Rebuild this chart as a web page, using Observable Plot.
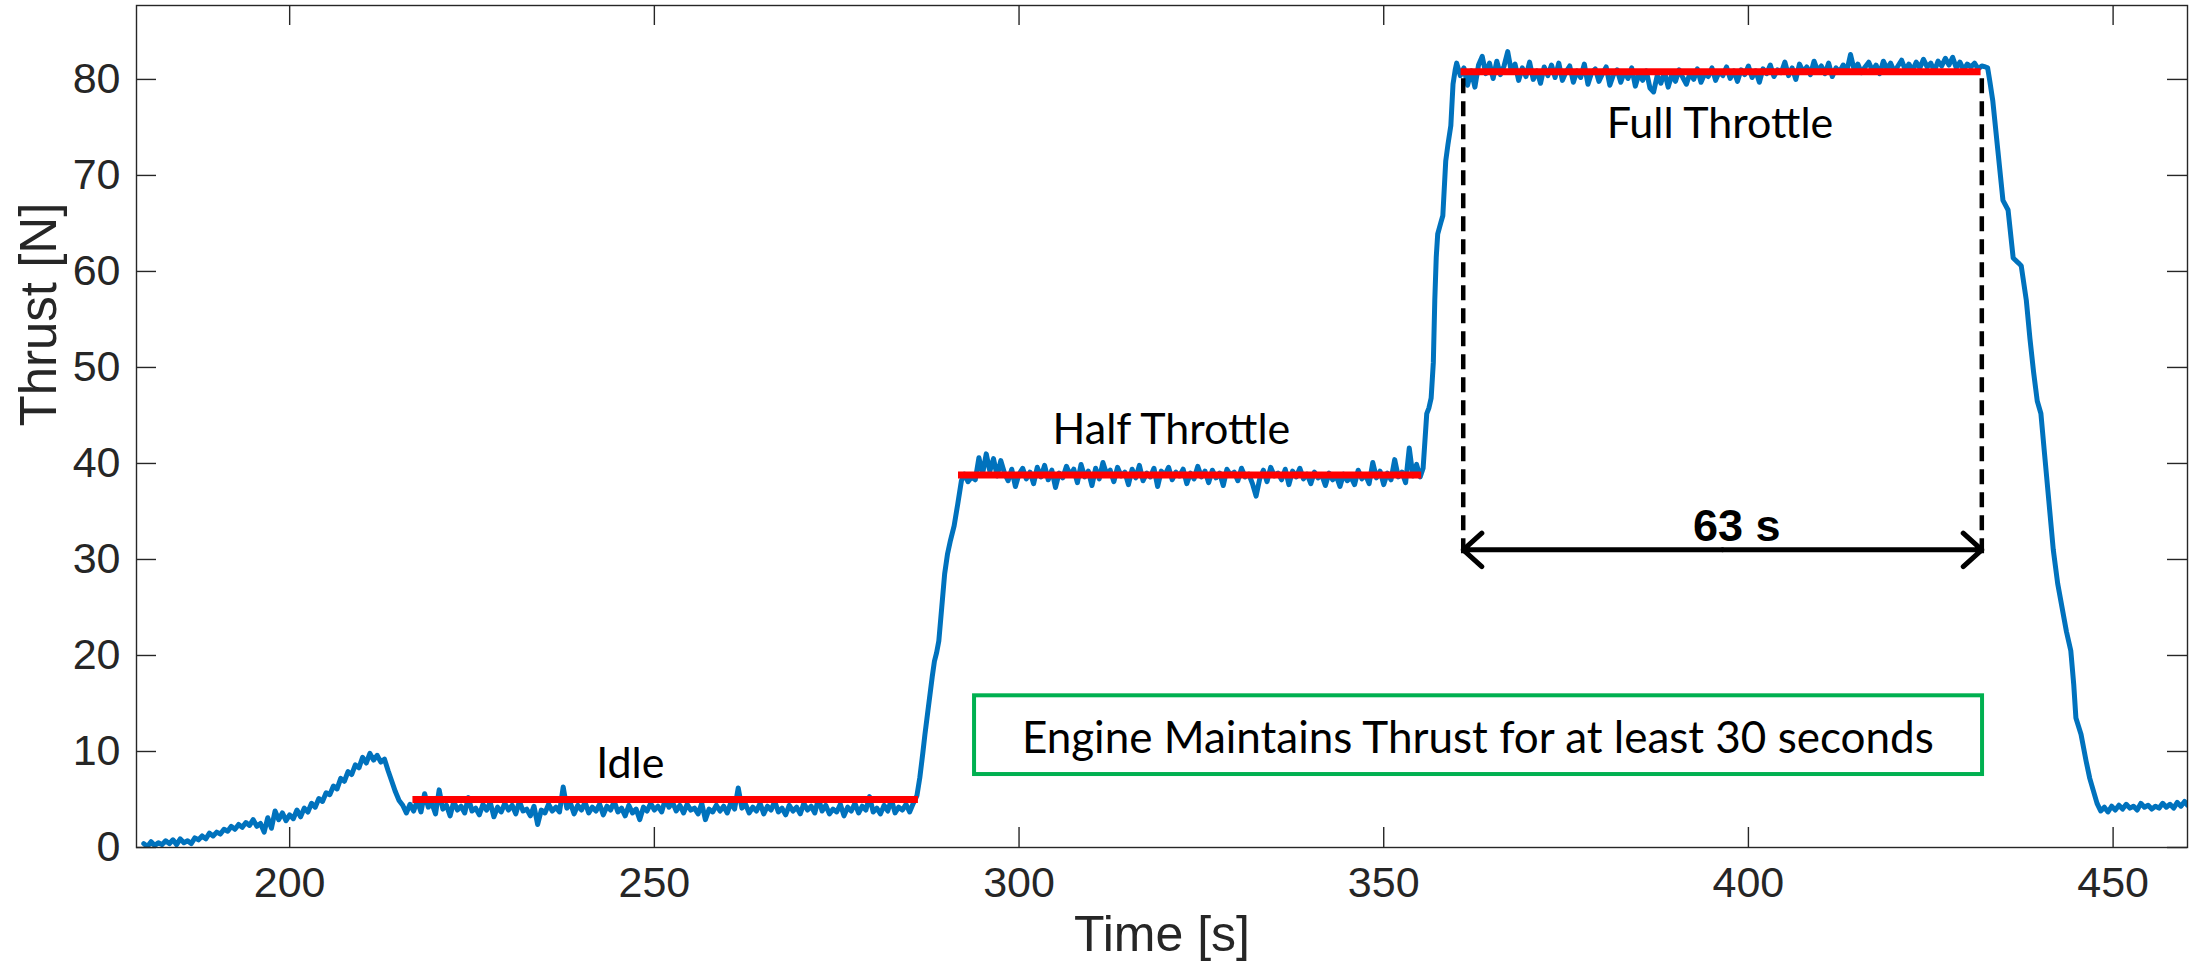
<!DOCTYPE html>
<html>
<head>
<meta charset="utf-8">
<script src="https://cdn.jsdelivr.net/npm/d3@7"></script>
<script src="https://cdn.jsdelivr.net/npm/@observablehq/plot@0.6"></script>
<style>
  html, body { margin: 0; padding: 0; background: #ffffff; }
  #chart svg { display: block; }
</style>
</head>
<body>
<div id="chart"></div>
<script>
// ---------------- data ----------------
// start-up hump before idle
const humpTime = [180,180.5,181,181.5,182,182.5,183,183.5,184,184.5,
  185,185.5,186,186.5,187,187.5,188,188.5,189,189.5,
  190,190.5,191,191.5,192,192.5,193,193.5,194,194.5,
  195,195.5,196,196.5,197,197.5,198,198.5,199,199.5,
  200,200.5,201,201.5,202,202.5,203,203.5,204,204.5,
  205,205.5,206,206.5,207,207.5,208,208.5,209,209.5,
  210,210.5,211,211.5,212,212.5,213,213.5,214,214.5,
  215,215.5,216,216.5,217];
const humpThrust = [0.4,0.1,0.6,0.2,0.5,0.3,0.7,0.4,0.8,0.3,
  0.9,0.5,0.7,0.4,1.0,0.8,1.2,0.9,1.5,1.2,
  1.6,1.4,1.9,1.7,2.2,1.9,2.4,2.1,2.6,2.3,
  2.9,2.2,2.5,1.6,3.1,2.0,3.8,2.9,3.6,2.8,
  3.4,3.0,3.9,3.2,4.1,3.7,4.6,4.2,5.1,4.8,
  5.7,5.5,6.4,6.1,7.2,6.9,7.9,7.6,8.6,8.3,
  9.4,8.8,9.8,9.1,9.6,8.9,9.2,8.0,6.9,5.8,
  4.9,4.4,3.6,4.5,3.8];

// idle plateau
const idleTime = [217.5,218,218.5,219,219.5,220,220.5,221,221.5,222,
  222.5,223,223.5,224,224.5,225,225.5,226,226.5,227,
  227.5,228,228.5,229,229.5,230,230.5,231,231.5,232,
  232.5,233,233.5,234,234.5,235,235.5,236,236.5,237,
  237.5,238,238.5,239,239.5,240,240.5,241,241.5,242,
  242.5,243,243.5,244,244.5,245,245.5,246,246.5,247,
  247.5,248,248.5,249,249.5,250,250.5,251,251.5,252,
  252.5,253,253.5,254,254.5,255,255.5,256,256.5,257,
  257.5,258,258.5,259,259.5,260,260.5,261,261.5,262,
  262.5,263,263.5,264,264.5,265,265.5,266,266.5,267,
  267.5,268,268.5,269,269.5,270,270.5,271,271.5,272,
  272.5,273,273.5,274,274.5,275,275.5,276,276.5,277,
  277.5,278,278.5,279,279.5,280,280.5,281,281.5,282,
  282.5,283,283.5,284,284.5,285,285.5];
const idleThrust = [4.9,3.7,5.6,4.2,4.6,3.5,6.0,4.0,4.4,3.3,
  4.8,3.9,4.3,3.6,5.2,3.8,4.1,3.4,4.5,3.9,
  4.7,3.2,4.2,3.7,4.6,3.9,4.4,3.5,4.8,3.8,
  4.0,3.3,4.3,2.4,3.9,3.6,4.5,3.8,4.2,3.7,
  6.3,4.1,4.6,3.5,4.4,3.9,4.7,3.6,4.2,3.8,
  4.5,3.4,4.3,3.9,4.8,3.7,4.1,3.3,4.4,3.6,
  4.0,2.9,4.2,3.8,4.6,3.9,4.3,3.7,5.0,4.2,
  4.7,3.8,4.4,3.6,4.5,3.9,4.1,3.5,4.6,2.9,
  4.0,3.7,4.4,3.8,4.3,3.6,4.7,4.0,6.2,4.1,
  4.5,3.6,4.2,3.8,4.6,3.5,4.3,3.9,4.8,3.7,
  4.1,3.4,4.4,3.8,4.2,3.5,4.6,3.9,4.3,3.6,
  5.1,3.8,4.4,3.5,4.0,3.7,4.5,3.3,4.2,3.8,
  4.6,3.6,4.3,3.9,5.3,3.7,4.1,3.5,4.4,3.8,
  5.0,3.6,4.2,3.9,4.5,3.7,4.6];

// ramp idle -> half
const rise1Time = [286,286.4,286.8,287.1,287.5,287.8,288.1,288.4,288.7,289,289.4,289.8,290.2,290.6,291.1,291.6,292.1,292.5];
const rise1Thrust = [5.4,7.3,9.8,11.8,14.2,16.0,17.8,19.4,20.3,21.5,25.0,28.5,30.6,32.0,33.5,35.8,38.2,38.9];

// half throttle plateau
const halfTime = [293,293.5,294,294.5,295,295.5,296,296.5,297,297.5,
  298,298.5,299,299.5,300,300.5,301,301.5,302,302.5,
  303,303.5,304,304.5,305,305.5,306,306.5,307,307.5,
  308,308.5,309,309.5,310,310.5,311,311.5,312,312.5,
  313,313.5,314,314.5,315,315.5,316,316.5,317,317.5,
  318,318.5,319,319.5,320,320.5,321,321.5,322,322.5,
  323,323.5,324,324.5,325,325.5,326,326.5,327,327.5,
  328,328.5,329,329.5,330,330.5,331,331.5,332,332.5,
  333,333.5,334,334.5,335,335.5,336,336.5,337,337.5,
  338,338.5,339,339.5,340,340.5,341,341.5,342,342.5,
  343,343.5,344,344.5,345,345.5,346,346.5,347,347.5,
  348,348.5,349,349.5,350,350.5,351,351.5,352,352.5,
  353,353.5,354,354.5,355];
const halfThrust = [38.1,38.6,38.3,40.6,38.9,41.0,39.2,40.5,38.7,40.3,
  39.0,38.2,39.4,37.6,38.9,39.5,38.4,39.1,37.9,39.6,
  38.6,39.8,38.3,39.3,37.5,39.0,38.5,39.7,38.8,39.4,
  38.0,39.9,38.6,39.2,37.7,39.5,38.4,40.1,38.9,39.3,
  38.1,39.6,38.7,39.1,37.8,39.4,38.5,39.8,38.2,39.0,
  38.6,39.5,37.6,39.2,38.8,39.6,38.3,39.1,38.7,39.4,
  37.9,39.0,38.4,39.7,38.6,39.2,38.0,39.3,38.5,39.0,
  37.7,39.4,38.8,39.1,38.2,39.5,38.6,38.9,37.9,36.6,
  38.4,39.3,38.1,39.6,38.7,39.0,38.3,39.4,37.8,39.2,
  38.6,39.5,38.4,38.9,37.9,39.1,38.5,38.8,37.7,39.0,
  38.3,38.7,37.6,38.9,38.2,38.6,37.8,39.3,38.4,38.8,
  37.9,40.1,38.5,39.2,37.8,39.0,38.3,40.4,38.6,39.1,
  38.0,41.6,38.7,39.9,38.6];

// ramp half -> full
const rise2Time = [355.4,355.9,356.2,356.5,356.8,357,357.2,357.4,357.8,358.1,358.5,358.8,359.2,359.5,359.8,360];
const rise2Thrust = [39.5,45.2,45.8,46.8,50.5,57.0,61.5,63.9,65.0,65.8,71.5,73.2,75.2,79.5,81.0,81.7];

// full throttle plateau
const fullTime = [360.5,361,361.5,362,362.5,363,363.5,364,364.5,365,
  365.5,366,366.5,367,367.5,368,368.5,369,369.5,370,
  370.5,371,371.5,372,372.5,373,373.5,374,374.5,375,
  375.5,376,376.5,377,377.5,378,378.5,379,379.5,380,
  380.5,381,381.5,382,382.5,383,383.5,384,384.5,385,
  385.5,386,386.5,387,387.5,388,388.5,389,389.5,390,
  390.5,391,391.5,392,392.5,393,393.5,394,394.5,395,
  395.5,396,396.5,397,397.5,398,398.5,399,399.5,400,
  400.5,401,401.5,402,402.5,403,403.5,404,404.5,405,
  405.5,406,406.5,407,407.5,408,408.5,409,409.5,410,
  410.5,411,411.5,412,412.5,413,413.5,414,414.5,415,
  415.5,416,416.5,417,417.5,418,418.5,419,419.5,420,
  420.5,421,421.5,422,422.5,423,423.5,424,424.5,425,
  425.5,426,426.5,427,427.5,428,428.5,429,429.5,430,
  430.5,431,431.5,432,432.5];
const fullThrust = [80.4,81.2,79.4,80.9,79.2,81.5,82.4,80.6,81.7,80.1,
  81.9,80.5,81.4,82.9,80.8,81.6,79.9,81.2,80.3,81.8,
  80.0,80.9,79.6,81.3,80.4,81.5,80.2,81.7,79.9,80.8,
  81.4,79.7,80.9,80.2,81.6,79.5,80.7,81.1,79.8,80.6,
  81.3,79.4,80.5,81.0,79.7,80.8,80.1,81.2,79.3,80.6,
  79.9,80.9,79.1,78.7,80.4,79.6,80.8,79.2,80.5,79.8,
  81.0,80.2,79.5,80.7,80.0,81.1,79.7,80.6,80.3,81.2,
  79.9,80.8,80.4,81.3,80.1,80.9,79.8,81.0,80.5,81.4,
  80.2,80.9,79.7,81.1,80.6,81.5,80.3,81.0,80.7,81.8,
  80.4,81.2,80.0,81.6,80.8,81.3,80.5,81.9,80.9,81.4,
  80.6,81.7,80.3,81.2,80.8,81.5,80.9,82.6,81.0,81.6,
  80.7,81.3,81.8,80.9,81.5,80.6,81.9,81.1,81.7,80.8,
  81.4,82.0,81.0,81.6,80.9,81.8,81.2,82.1,81.3,81.7,
  80.9,81.9,81.4,82.2,81.5,82.3,81.2,81.8,81.0,81.6,
  81.3,81.7,81.1,81.4,81.3];

// shut-down ramp
const fallTime = [432.8,433.1,433.5,434.2,434.9,435.6,436.3,437,437.4,438.1,
  438.6,439.1,439.6,440.1,440.6,441.2,441.8,442.4,443,443.6,
  444.2,444.6,444.9,445.6,446.3,446.8,447.3,447.8,448.3];
const fallThrust = [81.2,79.8,77.8,72.6,67.4,66.4,61.4,60.9,60.6,57.0,
  53.0,49.5,46.5,45.2,41.0,36.0,31.0,27.5,25.0,22.5,
  20.5,17.0,13.5,11.8,9.0,7.2,5.9,4.6,3.8];

// tail after shut-down
const tailTime = [448.8,449.3,449.8,450.3,450.8,451.3,451.8,452.3,452.8,453.3,
  453.8,454.3,454.8,455.3,455.8,456.3,456.8,457.3,457.8,458.3,
  458.8,459.3,459.8,460.2];
const tailThrust = [4.2,3.7,4.3,3.9,4.4,4.0,4.5,4.1,4.3,3.9,
  4.6,4.2,4.4,4.0,4.3,4.1,4.6,4.2,4.5,4.1,
  4.7,4.3,4.8,4.4];

// plateau means (red bars) and their labels
const plateauLabel = ["Idle", "Half Throttle", "Full Throttle"];
const plateauStart = [216.9, 291.7, 360.6];
const plateauEnd   = [286.2, 355.2, 431.9];
const plateauLevel = [5.0, 38.8, 80.8];
const labelTime    = [246.7, 320.9, 396.1];
const labelThrust  = [10.4, 45.2, 77.1];

// 63 s span annotation
const spanEdges  = [360.9, 432.0];
const spanTop    = 80.8;
const spanBottom = 30.6;
const spanLevel  = 31.0;
const spanText   = ["63 s"];
const spanTextTime   = [398.4];
const spanTextThrust = [35.3];

// green note box
const noteText   = ["Engine Maintains Thrust for at least 30 seconds"];
const noteTime   = [362.9];
const noteThrust = [13.1];
const noteBoxX   = [293.9, 432.1];
const noteBoxY   = [7.6, 15.8];

// axes
const xTicks = [200, 250, 300, 350, 400, 450];
const yTicks = [0, 10, 20, 30, 40, 50, 60, 70, 80];
const xDomain = [179, 460.2];
const yDomain = [0, 87.7];

// ---------------- build ----------------
const series = [];
function addSegment(times, values) {
  const n = Math.min(times.length, values.length);
  for (let i = 0; i < n; i++) series.push({t: times[i], v: values[i]});
}
addSegment(humpTime, humpThrust);
addSegment(idleTime, idleThrust);
addSegment(rise1Time, rise1Thrust);
addSegment(halfTime, halfThrust);
addSegment(rise2Time, rise2Thrust);
addSegment(fullTime, fullThrust);
addSegment(fallTime, fallThrust);
addSegment(tailTime, tailThrust);

const W = 2190, H = 966;
const mL = 136, mR = 3, mT = 5, mB = 119;
const innerW = W - mL - mR, innerH = H - mT - mB;
const ink = "#262626";
const tickLen = 20;
const spanMid = (spanEdges[0] + spanEdges[1]) / 2;

const chart = Plot.plot({
  width: W,
  height: H,
  marginLeft: mL,
  marginRight: mR,
  marginTop: mT,
  marginBottom: mB,
  x: {domain: xDomain},
  y: {domain: yDomain},
  style: {fontFamily: "'Liberation Sans', Arial, Helvetica, sans-serif", background: "#ffffff", color: ink},
  marks: [
    // data
    Plot.line(series, {x: "t", y: "v", stroke: "#0072BD", strokeWidth: 5, clip: true}),
    // plateau bars
    Plot.ruleY(plateauLevel, {y: d => d, x1: (d, i) => plateauStart[i], x2: (d, i) => plateauEnd[i], stroke: "#FF0000", strokeWidth: 7}),
    // dashed span limits
    Plot.ruleX(spanEdges, {x: d => d, y1: () => spanBottom, y2: () => spanTop, stroke: "#000000", strokeWidth: 4.5, strokeDasharray: "15,8"}),
    // double arrow (two halves)
    Plot.arrow(spanEdges, {x1: () => spanMid, x2: d => d, y1: () => spanLevel, y2: () => spanLevel, stroke: "#000000", strokeWidth: 5, headAngle: 84, headLength: 7.5}),
    // green box
    Plot.rect([0], {x1: () => noteBoxX[0], x2: () => noteBoxX[1], y1: () => noteBoxY[0], y2: () => noteBoxY[1], fill: "none", stroke: "#00B050", strokeWidth: 4}),
    // frame and inward ticks
    Plot.frame({stroke: ink, strokeWidth: 1.4}),
    Plot.ruleX(xTicks, {stroke: ink, strokeWidth: 1.4, insetTop: innerH - tickLen}),
    Plot.ruleX(xTicks, {stroke: ink, strokeWidth: 1.4, insetBottom: innerH - tickLen}),
    Plot.ruleY(yTicks, {stroke: ink, strokeWidth: 1.4, insetRight: innerW - tickLen}),
    Plot.ruleY(yTicks, {stroke: ink, strokeWidth: 1.4, insetLeft: innerW - tickLen}),
    // tick labels
    Plot.axisX(xTicks, {tickSize: 0, tickPadding: 19, fontSize: 43, color: ink, label: null}),
    Plot.axisY(yTicks, {tickSize: 0, tickPadding: 16, fontSize: 43, color: ink, label: null}),
    // axis titles
    Plot.text(["Time [s]"], {frameAnchor: "bottom", dy: 68, lineAnchor: "top", fontSize: 50, fill: ink, text: d => d}),
    Plot.text(["Thrust [N]"], {frameAnchor: "left", rotate: -90, dx: -97, lineAnchor: "middle", fontSize: 51, fill: ink, text: d => d}),
    // annotation texts
    Plot.text(plateauLabel, {x: (d, i) => labelTime[i], y: (d, i) => labelThrust[i], text: d => d, lineAnchor: "top", fontSize: 43, fontFamily: "Lato, 'Open Sans', sans-serif", fill: "#000000"}),
    Plot.text(noteText, {x: (d, i) => noteTime[i], y: (d, i) => noteThrust[i], text: d => d, lineAnchor: "top", fontSize: 44, fontFamily: "Lato, 'Open Sans', sans-serif", fill: "#000000"}),
    Plot.text(spanText, {x: (d, i) => spanTextTime[i], y: (d, i) => spanTextThrust[i], text: d => d, lineAnchor: "top", fontSize: 45, fontWeight: "bold", fill: "#000000"})
  ]
});

document.getElementById("chart").appendChild(chart);
</script>
</body>
</html>
